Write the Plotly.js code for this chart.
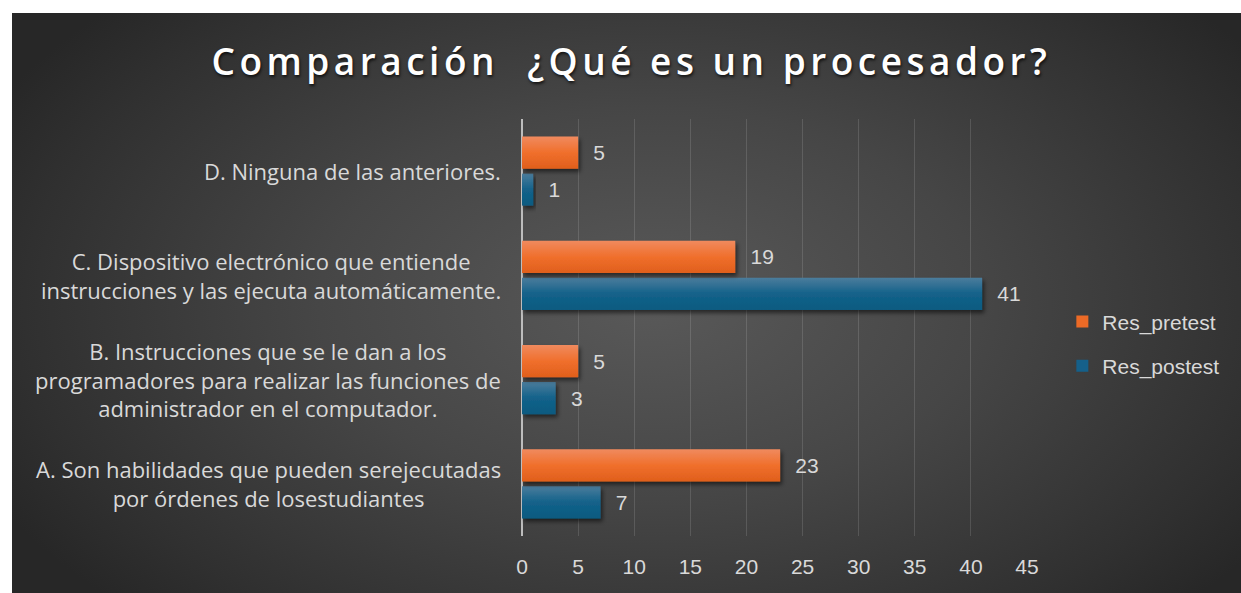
<!DOCTYPE html>
<html>
<head>
<meta charset="utf-8">
<script src="https://cdn.plot.ly/plotly-3.0.1.min.js"></script>
<style>
  html, body { margin: 0; padding: 0; background: #ffffff; }
  #chart {
    position: absolute; left: 12px; top: 13px; width: 1229px; height: 580px;
    background: radial-gradient(ellipse 60% 75% at 52% 50%, #595959 0%, #464646 45%, #303030 85%, #272727 100%);
  }
  .gtitle { letter-spacing: 4.5px; }
</style>
</head>
<body>
<svg width="0" height="0" style="position:absolute">
  <defs>
    <linearGradient id="gradPre" x1="0" y1="0" x2="0" y2="1">
      <stop offset="0" stop-color="#f08a5e"/>
      <stop offset="0.5" stop-color="#f06f2c"/>
      <stop offset="1" stop-color="#e05f1c"/>
    </linearGradient>
    <linearGradient id="gradPost" x1="0" y1="0" x2="0" y2="1">
      <stop offset="0" stop-color="#4b7c9c"/>
      <stop offset="0.5" stop-color="#13628a"/>
      <stop offset="1" stop-color="#0b5a80"/>
    </linearGradient>
    <filter id="barShadow" x="-10%" y="-30%" width="130%" height="180%">
      <feDropShadow dx="2" dy="3" stdDeviation="2" flood-color="#000" flood-opacity="0.55"/>
    </filter>
  </defs>
</svg>
<div id="chart"></div>
<script>
const categories = [
  "A. Son habilidades que pueden serejecutadas<br>por órdenes de losestudiantes",
  "B. Instrucciones que se le dan a los<br>programadores para realizar las funciones de<br>administrador en el computador.",
  "C. Dispositivo electrónico que entiende<br>instrucciones y las ejecuta automáticamente.",
  "D. Ninguna de las anteriores."
];
const preValues = [23, 5, 19, 5];
const postValues = [7, 3, 41, 1];
const xTicks = [0, 5, 10, 15, 20, 25, 30, 35, 40, 45];
const seriesNames = ["Res_pretest", "Res_postest"];

const labelFont = { family: "Liberation Sans, Arial, sans-serif", size: 21, color: "#d9d9d9" };

const tracePost = {
  type: "bar", orientation: "h",
  y: categories, x: postValues, name: seriesNames[1],
  marker: { color: "#15608a" },
  text: postValues, texttemplate: "\u2002\u200A%{x}", textposition: "outside",
  outsidetextfont: labelFont, cliponaxis: false,
  legendrank: 2, legendgroup: "post", hoverinfo: "x+name"
};
const tracePre = {
  type: "bar", orientation: "h",
  y: categories, x: preValues, name: seriesNames[0],
  marker: { color: "#ec6a26" },
  text: preValues, texttemplate: "\u2002\u200A%{x}", textposition: "outside",
  outsidetextfont: labelFont, cliponaxis: false,
  legendrank: 1, legendgroup: "pre", hoverinfo: "x+name"
};

const annotations = categories.map(c => ({
  x: 0, xref: "paper", y: c, yref: "y",
  text: c, showarrow: false, xanchor: "right", yanchor: "middle",
  align: "center", xshift: -19,
  font: { family: "Open Sans, sans-serif", size: 22, color: "#d9d9d9" }
}));

const layout = {
  width: 1229, height: 580,
  paper_bgcolor: "rgba(0,0,0,0)", plot_bgcolor: "rgba(0,0,0,0)",
  margin: { l: 510, r: 214, t: 106, b: 57 },
  title: {
    text: "Comparación&nbsp; ¿Qué es un procesador?",
    x: 0.504, xanchor: "center", y: 1 - 49 / 580, yanchor: "middle", yref: "container",
    font: { family: "Open Sans, sans-serif", size: 37, weight: 600, color: "#ffffff",
            shadow: "1px 2px 3px rgba(0,0,0,0.7)" }
  },
  barmode: "group", bargap: 0.29, bargroupgap: 0.135,
  xaxis: {
    range: [0, 45], tickvals: xTicks, ticktext: xTicks.map(String),
    showgrid: true, gridcolor: "rgba(255,255,255,0.13)", gridwidth: 1,
    zeroline: true, zerolinecolor: "#bdbdbd", zerolinewidth: 2,
    showline: false, ticks: "", ticklabelstandoff: 16,
    tickfont: labelFont, fixedrange: true
  },
  yaxis: {
    type: "category", showticklabels: false, showgrid: false, zeroline: false,
    showline: false, ticks: "", fixedrange: true
  },
  legend: {
    x: 1.07, xanchor: "left", y: 0.461, yanchor: "middle",
    font: labelFont, bgcolor: "rgba(0,0,0,0)", tracegroupgap: 14,
    traceorder: "grouped"
  },
  annotations: annotations,
  showlegend: true
};

Plotly.newPlot("chart", [tracePost, tracePre], layout, { displayModeBar: false, staticPlot: true })
  .then(gd => {
    const traces = gd.querySelectorAll(".barlayer .trace");
    const grads = ["url(#gradPost)", "url(#gradPre)"];
    traces.forEach((t, i) => {
      t.querySelectorAll(".point path").forEach(p => {
        p.style.fill = grads[i];
        p.setAttribute("filter", "url(#barShadow)");
      });
    });
  });
</script>
</body>
</html>
